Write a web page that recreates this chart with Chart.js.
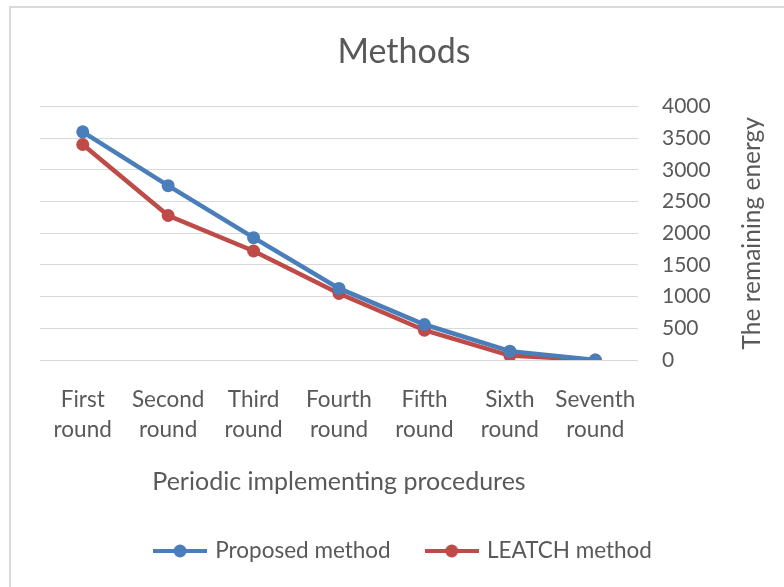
<!DOCTYPE html>
<html>
<head>
<meta charset="utf-8">
<title>Methods</title>
<script src="https://cdn.jsdelivr.net/npm/chart.js@4.4.1/dist/chart.umd.min.js"></script>
<style>
  html, body { margin: 0; padding: 0; background: #fff; }
  .frame {
    position: absolute; left: 9px; top: 6px; width: 800px; height: 600px;
    border-left: 2px solid #d9d9d9; border-top: 2px solid #d9d9d9;
  }
  .wrap { position: absolute; left: 0; top: 0; width: 784px; height: 587px; }
</style>
</head>
<body>
<div class="frame"></div>
<div class="wrap"><canvas id="energyChart"></canvas></div>
<script>
// Chart data
const rounds = [
    ['First', 'round'], ['Second', 'round'], ['Third', 'round'], ['Fourth', 'round'],
    ['Fifth', 'round'], ['Sixth', 'round'], ['Seventh', 'round']
];
const proposedEnergy = [3600, 2750, 1930, 1130, 560, 140, 0];
const leatchEnergy = [3400, 2280, 1720, 1050, 470, 70, 0];
const yTicks = { min: 0, max: 4000, step: 500 };

const FONT = 'Lato, sans-serif';
const TEXT = '#595959';
const BLUE = '#4a7ebb';
const RED = '#be4b48';

// Legend marker: short line with a dot in the middle
function makeMarker(color) {
    const c = document.createElement('canvas');
    c.width = 54;
    c.height = 16;
    const g = c.getContext('2d');
    g.strokeStyle = color;
    g.lineWidth = 4;
    g.beginPath();
    g.moveTo(0, 8);
    g.lineTo(54, 8);
    g.stroke();
    g.fillStyle = color;
    g.beginPath();
    g.arc(27, 8, 6.5, 0, Math.PI * 2);
    g.fill();
    return c;
}

// Right axis title reads bottom-to-top, like Excel
const yTitlePlugin = {
    id: 'yTitle',
    afterDraw(chart) {
        const y = chart.scales.y;
        const ctx = chart.ctx;
        ctx.save();
        ctx.translate(752, (y.top + y.bottom) / 2);
        ctx.rotate(-Math.PI / 2);
        ctx.font = '24.5px ' + FONT;
        ctx.fillStyle = TEXT;
        ctx.textAlign = 'center';
        ctx.textBaseline = 'middle';
        ctx.fillText('The remaining energy', 0, 0);
        ctx.restore();
    }
};

document.addEventListener('DOMContentLoaded', function() {
    const ctx = document.getElementById('energyChart').getContext('2d');
    new Chart(ctx, {
        type: 'line',
        data: {
            labels: rounds,
            datasets: [
                {
                    label: 'Proposed method',
                    data: proposedEnergy,
                    borderColor: BLUE,
                    backgroundColor: BLUE,
                    borderWidth: 4.5,
                    pointRadius: 6.5,
                    pointBackgroundColor: BLUE,
                    pointBorderWidth: 0,
                    tension: 0
                },
                {
                    label: 'LEATCH method',
                    data: leatchEnergy,
                    borderColor: RED,
                    backgroundColor: RED,
                    borderWidth: 4.5,
                    pointRadius: 6.5,
                    pointBackgroundColor: RED,
                    pointBorderWidth: 0,
                    tension: 0
                }
            ]
        },
        options: {
            responsive: true,
            maintainAspectRatio: false,
            animation: false,
            layout: {
                padding: { left: 40, right: 16, top: 0, bottom: 14.75 }
            },
            scales: {
                x: {
                    offset: true,
                    grid: { display: false, drawTicks: false },
                    border: { display: false },
                    ticks: {
                        color: TEXT,
                        font: { family: FONT, size: 22.5, lineHeight: 1.333 },
                        padding: 25,
                        maxRotation: 0,
                        autoSkip: false
                    },
                    title: {
                        display: true,
                        text: 'Periodic implementing procedures',
                        color: TEXT,
                        font: { family: FONT, size: 25 },
                        padding: { top: 10, bottom: 5.75 }
                    },
                    afterFit: function(scale) {
                        scale.height = 142.75;
                    }
                },
                y: {
                    position: 'right',
                    min: yTicks.min,
                    max: yTicks.max,
                    grid: { color: '#d9d9d9', lineWidth: 1, drawTicks: false },
                    border: { display: false },
                    ticks: {
                        stepSize: yTicks.step,
                        autoSkip: false,
                        color: TEXT,
                        font: { family: FONT, size: 21 },
                        padding: 24,
                        callback: function(value) {
                            return String(value);
                        }
                    },
                    afterFit: function(scale) {
                        scale.width = 130;
                    }
                }
            },
            plugins: {
                title: {
                    display: true,
                    text: 'Methods',
                    color: TEXT,
                    font: { family: FONT, size: 34, weight: 'normal' },
                    padding: { top: 31.6, bottom: 34.1 }
                },
                legend: {
                    position: 'bottom',
                    labels: {
                        color: TEXT,
                        font: { family: FONT, size: 22.5 },
                        usePointStyle: true,
                        pointStyleWidth: 48,
                        padding: 37,
                        generateLabels: function(chart) {
                            return chart.data.datasets.map((ds, i) => ({
                                text: ds.label,
                                pointStyle: makeMarker(ds.borderColor),
                                fillStyle: ds.borderColor,
                                strokeStyle: ds.borderColor,
                                lineWidth: 0,
                                fontColor: TEXT,
                                datasetIndex: i,
                                hidden: false
                            }));
                        }
                    }
                },
                tooltip: { enabled: false }
            }
        },
        plugins: [yTitlePlugin]
    });
});
</script>
</body>
</html>
